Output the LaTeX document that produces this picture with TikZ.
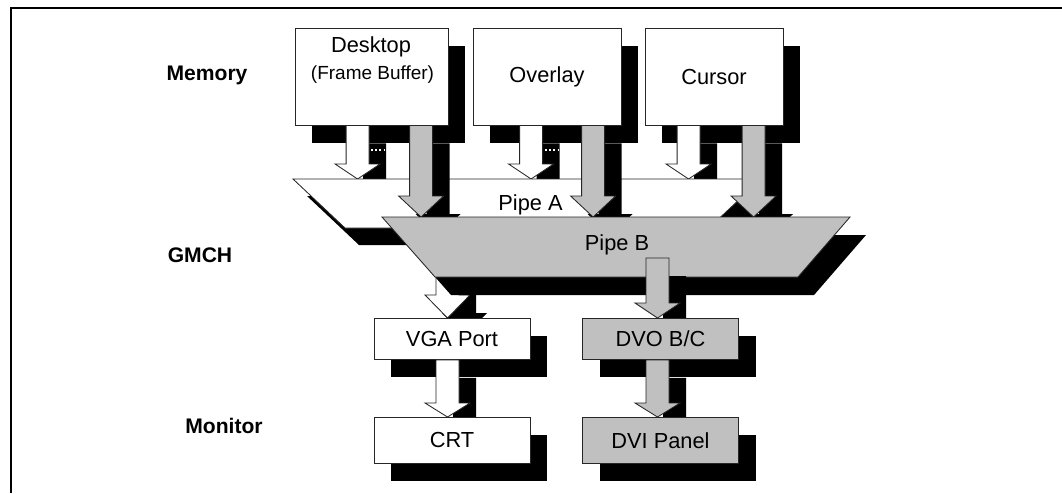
\documentclass[tikz,border=0pt]{standalone}
\usepackage{fontspec}
\setmainfont{Liberation Sans}
\usetikzlibrary{calc,shadows}
\definecolor{silver}{RGB}{192,192,192}
\newlength\pxu
\setlength\pxu{0.025cm}
\newcommand\boxfont{\fontsize{15.5}{18}\selectfont}
\newcommand\subfont{\fontsize{13.5}{16}\selectfont}
\newcommand\rowfont{\fontsize{15}{18}\selectfont\bfseries}
% block arrow: style, start, tip, head length
\newcommand\fatarrow[4]{%
  \filldraw[#1] ($(#2)+(-11.5,0)$) -- ($(#3)+(-11.5,-#4)$) -- ($(#3)+(-22.5,-#4)$) -- (#3)
    -- ($(#3)+(22.5,-#4)$) -- ($(#3)+(11.5,-#4)$) -- ($(#2)+(11.5,0)$) -- cycle;}
\tikzset{
  dropblack/.style={drop shadow={shadow xshift=17\pxu, shadow yshift=-18\pxu, fill=black, opacity=1}},
  outline/.style={draw=black!85, line width=0.6pt},
  membox/.style={outline, fill=white, dropblack, inner sep=0pt,
    minimum width=#1\pxu, minimum height=97\pxu, font=\boxfont},
  portbox/.style={outline, fill=#1, dropblack, inner sep=0pt,
    minimum width=156\pxu, anchor=north, font=\boxfont},
  whitearrow/.style={outline, fill=white, dropblack},
  grayarrow/.style={outline, fill=silver, dropblack},
  rowlabel/.style={font=\rowfont},
}

\begin{document}
\begin{tikzpicture}[x=0.025cm, y=-0.025cm]
\useasboundingbox (0,0) rectangle (1062,493);
% frame
\draw[line width=1.8pt] (10.8,493) -- (10.8,7.8) -- (1062,7.8);

% row labels
\node[rowlabel] (memory) at (207,75) {Memory};
\node[rowlabel] (gmch) at (200,255) {GMCH};
\node[rowlabel] (monitor) at (224,426) {Monitor};

% memory surfaces
\node[membox=153] (desk) at (371.5,76.5) {};
\node[font=\boxfont] (desk-t) at (371,46.5) {Desktop};
\node[font=\subfont] (desk-s) at (372.5,74.5) {(Frame Buffer)};
\node[membox=148] (over) at (547,76.5) {Overlay};
\node[membox=138] (curs) at (714,76.5) {Cursor};

% pipe corners and port inputs
\coordinate (pA-nw) at (293,179);
\coordinate (pA-ne) at (761,179);
\coordinate (pA-se) at (709,228);
\coordinate (pA-sw) at (345,228);
\coordinate (pB-nw) at (382,217);
\coordinate (pB-ne) at (850,217);
\coordinate (pB-se) at (798,277);
\coordinate (pB-sw) at (435,277);
\coordinate (vga-in) at (447.5,318);
\coordinate (dvo-in) at (657.5,318);
\coordinate (crt-in) at (447.5,417);
\coordinate (dvi-in) at (657.5,417);
\coordinate (pA-out) at (vga-in |- pA-sw);
\coordinate (pB-out) at (657.5,258);

% surfaces into pipe A
\foreach \src/\dx in {desk/63, over/58.5, curs/44} {
  \coordinate (\src-a) at ([xshift=\dx\pxu]\src.south west);
  \coordinate (\src-at) at (\src-a |- pA-nw);
  \fatarrow{whitearrow}{\src-a}{\src-at}{15}
}
\draw[white, line width=0.8pt, dash pattern=on 1.2pt off 1.8pt] (371,150) -- (386,150);
\draw[white, line width=0.8pt, dash pattern=on 1.2pt off 1.8pt] (545,150) -- (558,150);

% pipe A
\filldraw[outline, fill=white, drop shadow={shadow xshift=14\pxu, shadow yshift=-17\pxu,
  fill=black, opacity=1}] (pA-nw) -- (pA-ne) -- (pA-se) -- (pA-sw) -- cycle;
\node[font=\boxfont] (pipeA) at (530.5,205) {Pipe A};

% surfaces into pipe B
\foreach \src/\dx in {desk/126.5, over/120.5, curs/109} {
  \coordinate (\src-b) at ([xshift=\dx\pxu]\src.south west);
  \coordinate (\src-bt) at (\src-b |- pB-nw);
  \fatarrow{grayarrow}{\src-b}{\src-bt}{21}
}

% pipe A to VGA, behind pipe B
\fatarrow{whitearrow}{pA-out}{vga-in}{23}

% pipe B
\filldraw[outline, fill=silver, drop shadow={shadow xshift=16\pxu, shadow yshift=-18\pxu,
  fill=black, opacity=1}] (pB-nw) -- (pB-ne) -- (pB-se) -- (pB-sw) -- cycle;
\node[font=\boxfont] (pipeB) at (617,245) {Pipe B};
\fatarrow{grayarrow}{pB-out}{dvo-in}{15}

% ports
\node[portbox=white, minimum height=41\pxu] (vga) at (452,318) {VGA Port};
\node[portbox=silver, minimum height=41\pxu] (dvo) at (660.5,318) {DVO B/C};
\coordinate (vga-out) at (vga.south -| vga-in);
\coordinate (dvo-out) at (dvo.south -| dvo-in);
\fatarrow{whitearrow}{vga-out}{crt-in}{14}
\fatarrow{grayarrow}{dvo-out}{dvi-in}{14}

% monitors
\node[portbox=white, minimum height=46\pxu] (crt) at (452,417) {CRT};
\node[portbox=silver, minimum height=46\pxu] (dvi) at (660.5,417) {DVI Panel};
\end{tikzpicture}
\end{document}
